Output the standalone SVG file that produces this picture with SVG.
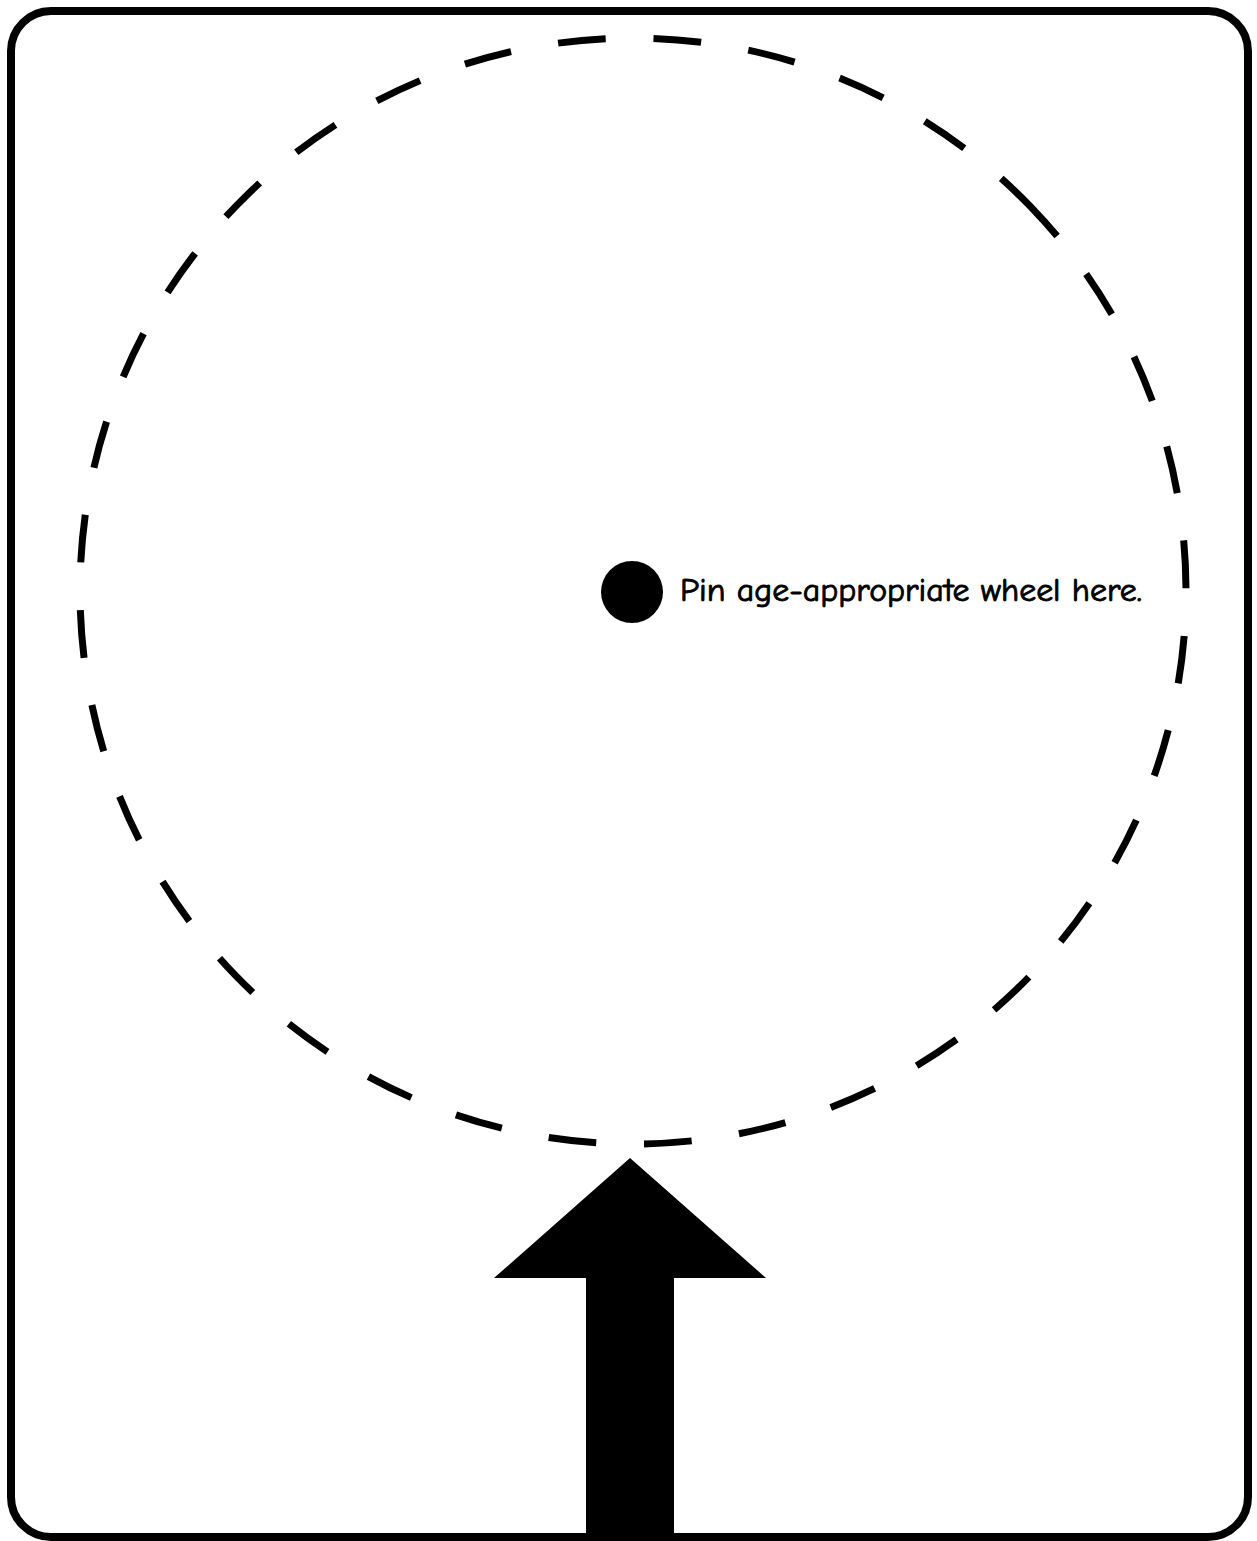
<svg xmlns="http://www.w3.org/2000/svg" width="1257" height="1541" viewBox="0 0 1257 1541">
<style>
.frame{fill:#fff;stroke:#000;stroke-width:8}
.ring{fill:none;stroke:#000;stroke-width:7;stroke-dasharray:47.8 47.8;stroke-dashoffset:8.4}
.label{font-family:"Comic Neue","Liberation Sans",sans-serif;font-size:32px;fill:#000;stroke:#000;stroke-width:0.9}
</style>
<rect width="1257" height="1541" fill="#fff"/>
<g id="frame"><rect class="frame" x="11" y="11" width="1237" height="1526" rx="40" ry="40"/></g>
<g id="wheel-outline"><circle class="ring" cx="633" cy="591" r="553" transform="rotate(-44 633 591)"/></g>
<g id="pin">
<circle cx="632" cy="592" r="31" fill="#000"/>
<text class="label" x="680" y="601" textLength="462" lengthAdjust="spacingAndGlyphs">Pin age-appropriate wheel here.</text>
</g>
<g id="arrow"><polygon points="630,1158 766,1278 674,1278 674,1537 586,1537 586,1278 494,1278" fill="#000"/></g>
</svg>
